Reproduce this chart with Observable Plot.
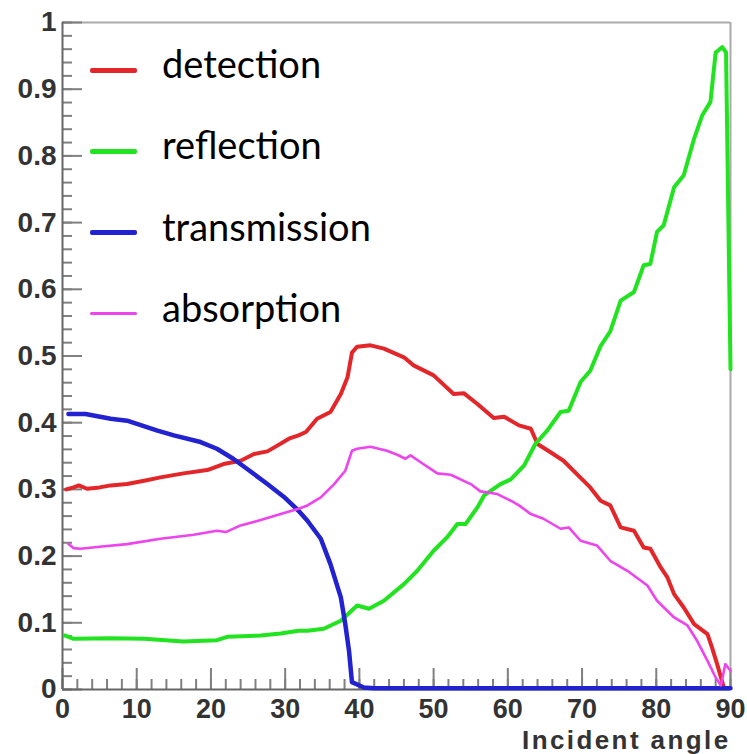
<!DOCTYPE html>
<html><head><meta charset="utf-8">
<script src="https://cdn.jsdelivr.net/npm/d3@7"></script>
<script src="https://cdn.jsdelivr.net/npm/@observablehq/plot@0.6"></script>
<style>
body{margin:0;background:#fff;}
#wrap{position:relative;width:747px;height:754px;overflow:hidden;}
#wrap svg{position:absolute;left:0;top:0;}
.xtitle text{letter-spacing:2.4px;}
.lg-line{position:absolute;left:90px;width:47px;border-radius:2px;}
.lg-text{position:absolute;left:162px;font-family:Lato,"Noto Sans",sans-serif;font-size:38px;line-height:38px;color:#000;white-space:nowrap;}
</style></head><body><div id="wrap"></div>
<script>
// ---- data (angle in degrees, fraction) ----
const seriesNames = ["detection", "reflection", "transmission", "absorption"];
const detection = [[0.5,0.300],[1.5,0.303],[2.2,0.306],[3.3,0.301],[5,0.303],[6.5,0.306],[8.7,0.308],[11,0.313],[13.2,0.318],[16.3,0.324],[19.5,0.329],[21.7,0.338],[24,0.343],[25.8,0.353],[27.6,0.357],[29,0.366],[30.5,0.376],[31.8,0.381],[32.8,0.386],[34.3,0.406],[36.1,0.416],[37.5,0.443],[38.4,0.468],[39,0.505],[39.7,0.514],[41.5,0.516],[43.3,0.511],[46,0.498],[47.3,0.486],[50,0.471],[52.7,0.443],[54.1,0.444],[55.9,0.428],[58.1,0.407],[59.5,0.409],[61.5,0.396],[63.1,0.391],[64,0.368],[65.7,0.356],[67.5,0.343],[69.3,0.323],[71.1,0.303],[72.5,0.283],[73.8,0.276],[75.2,0.243],[77,0.238],[78.3,0.213],[79.2,0.211],[80.6,0.183],[81.5,0.168],[82.4,0.143],[83.7,0.123],[85.1,0.098],[86.9,0.083],[87.5,0.063],[88.2,0.038],[89.1,0.003]];
const reflection = [[0.3,0.081],[1.5,0.076],[6.5,0.077],[11,0.076],[16.3,0.072],[20.8,0.074],[22.2,0.079],[26.7,0.081],[29.4,0.084],[31.8,0.088],[33,0.088],[35.2,0.091],[37.5,0.103],[39.7,0.126],[41.3,0.121],[43.3,0.133],[46,0.158],[47.8,0.178],[50,0.208],[51.8,0.228],[53.2,0.248],[54.3,0.248],[55.9,0.273],[56.8,0.291],[59,0.308],[60.4,0.315],[62.2,0.336],[63.7,0.368],[65.3,0.388],[67.1,0.416],[68.2,0.418],[69.8,0.461],[71.1,0.478],[72.5,0.515],[73.8,0.537],[75.2,0.583],[77,0.596],[78.3,0.636],[79.2,0.638],[80.1,0.686],[81,0.696],[82.4,0.753],[83.7,0.771],[85.1,0.826],[86.2,0.861],[87.3,0.881],[88,0.955],[88.9,0.963],[89.4,0.955],[90,0.48]];
const transmission = [[0.8,0.413],[3.1,0.413],[6.5,0.406],[8.7,0.403],[12.8,0.388],[15,0.381],[18.6,0.371],[20.8,0.361],[23,0.346],[25.8,0.323],[27.6,0.308],[29.8,0.289],[31.8,0.268],[33,0.253],[34.8,0.226],[36.1,0.188],[37.5,0.138],[38.1,0.098],[38.6,0.058],[39,0.011],[40.6,0.003],[42,0.002],[90,0.002]];
const absorption = [[0.8,0.218],[1.5,0.212],[2.4,0.211],[5,0.214],[8.7,0.218],[13.2,0.226],[17.7,0.232],[20.8,0.238],[22,0.236],[24,0.246],[26.7,0.254],[29.4,0.263],[31.8,0.271],[33,0.276],[34.8,0.288],[36.6,0.308],[38.1,0.328],[39,0.358],[39.7,0.361],[41.5,0.364],[43.7,0.358],[45.1,0.352],[46.2,0.346],[46.9,0.351],[48.2,0.341],[50.5,0.324],[52.3,0.322],[55,0.308],[56.3,0.297],[58.6,0.293],[60.4,0.283],[61.5,0.276],[63.1,0.263],[64.8,0.256],[67.1,0.241],[68.2,0.243],[69.8,0.223],[72,0.216],[73.8,0.193],[76.1,0.178],[78.8,0.156],[80.1,0.133],[82.4,0.108],[84.2,0.096],[85.5,0.073],[86.9,0.043],[88,0.018],[88.7,0.006],[89.3,0.038],[90,0.028]];
const xMajor = [0,10,20,30,40,50,60,70,80,90];
const yMajor = [0,0.1,0.2,0.3,0.4,0.5,0.6,0.7,0.8,0.9,1];
const yLabels = ["0","0.1","0.2","0.3","0.4","0.5","0.6","0.7","0.8","0.9","1"];
const xMinor = d3.range(0, 91, 2);
const yMinor = d3.range(0, 1.001, 0.02);
const xTitle = "Incident angle";

const colors = {detection:"#e3262a", reflection:"#22e31f", transmission:"#2222d0", absorption:"#ee44ee"};
const widths = {detection:4, reflection:4, transmission:4.5, absorption:2.6};
const dataBy = {detection, reflection, transmission, absorption};

const tickStroke = "#808080";
const lineMark = name => Plot.line(dataBy[name], {x: d => d[0], y: d => d[1], stroke: colors[name], strokeWidth: widths[name], strokeLinejoin: "round", strokeLinecap: "round"});

const chart = Plot.plot({
  width: 747, height: 754,
  marginLeft: 62, marginRight: 17, marginTop: 22, marginBottom: 65,
  x: {domain: [0, 90]},
  y: {domain: [0, 1]},
  style: {fontFamily: "'Liberation Sans', Arial, sans-serif", background: "white", overflow: "visible"},
  marks: [
    Plot.ruleY([1], {stroke: "#aaaaaa", strokeWidth: 2}),
    Plot.ruleX([90], {stroke: "#aaaaaa", strokeWidth: 2}),
    Plot.axisX({ticks: xMinor, tickSize: 10, dy: -10, fill: "none", stroke: tickStroke, strokeWidth: 2, label: null}),
    Plot.axisX({ticks: xMajor, tickSize: 21, dy: -21, fill: "none", stroke: tickStroke, strokeWidth: 2, label: null}),
    Plot.axisY({ticks: yMinor, tickSize: 10, dx: 10, fill: "none", stroke: tickStroke, strokeWidth: 2, label: null}),
    Plot.axisY({ticks: yMajor, tickSize: 20, dx: 20, fill: "none", stroke: tickStroke, strokeWidth: 2, label: null}),
    Plot.axisX({ticks: xMajor, tickSize: 0, tickPadding: 9, fontSize: 27, fontWeight: "bold", fill: "#333", label: null}),
    Plot.axisY({ticks: yMajor, tickSize: 0, tickPadding: 6, fontSize: 28, fontWeight: "bold", fill: "#333", label: null,
      tickFormat: d => yLabels[yMajor.indexOf(d)]}),
    Plot.ruleX([0], {stroke: "#666", strokeWidth: 2}),
    Plot.ruleY([0], {stroke: "#666", strokeWidth: 2}),
    Plot.text([xTitle], {frameAnchor: "bottom-right", text: d => d, textAnchor: "end", lineAnchor: "middle", dy: 51, dx: 0, fontSize: 26, fontWeight: "bold", fill: "#333", className: "xtitle"}),
    lineMark("detection"),
    lineMark("reflection"),
    lineMark("transmission"),
    lineMark("absorption")
  ]
});
const wrap = document.getElementById("wrap");
wrap.appendChild(chart);

// legend overlay
seriesNames.forEach((name, i) => {
  const cy = 70 + i * 81.3;
  const ln = document.createElement("div");
  ln.className = "lg-line";
  ln.style.background = colors[name];
  const h = name === "absorption" ? 3 : 5;
  ln.style.height = h + "px";
  ln.style.top = (cy - h / 2) + "px";
  wrap.appendChild(ln);
  const tx = document.createElement("div");
  tx.className = "lg-text";
  tx.textContent = name;
  tx.style.top = (cy - 26) + "px";
  wrap.appendChild(tx);
});
</script>
</body></html>
